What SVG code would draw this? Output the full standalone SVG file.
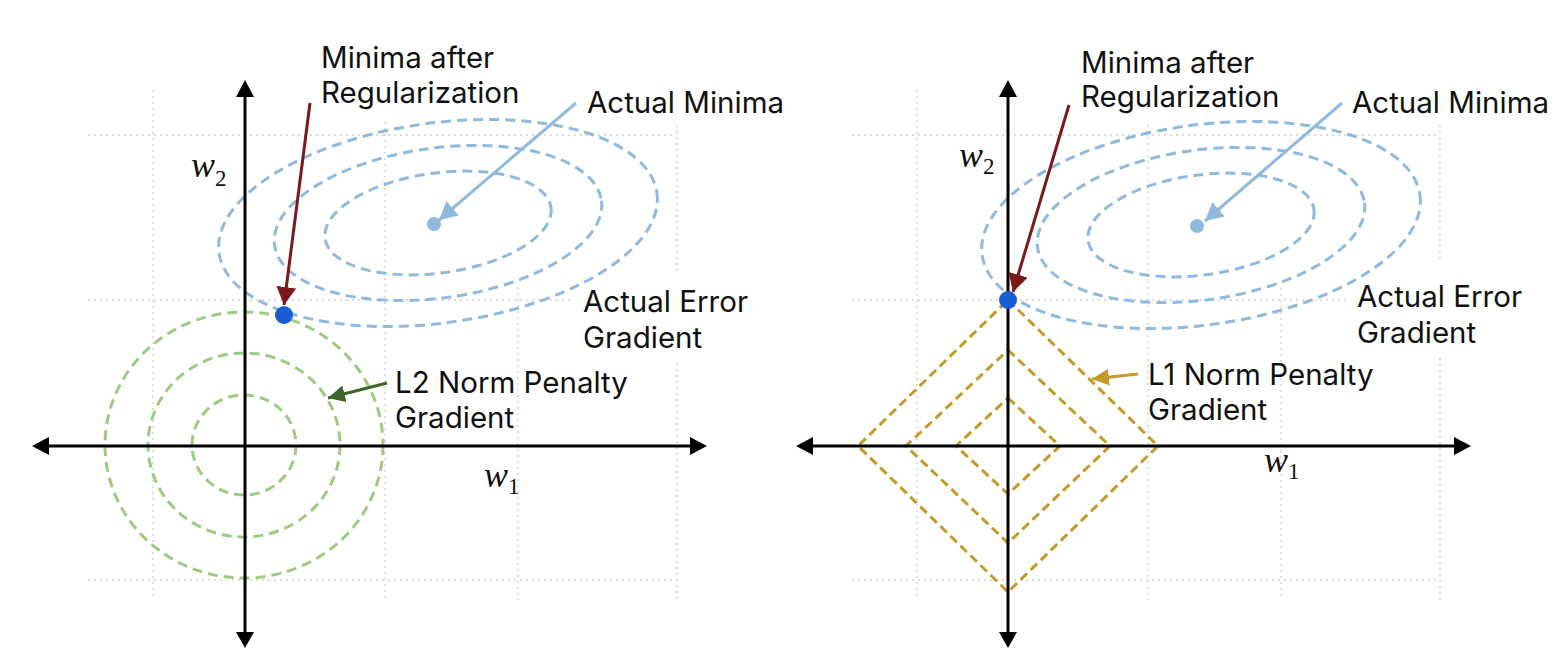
<svg xmlns="http://www.w3.org/2000/svg" width="1562" height="672" viewBox="0 0 1562 672">
<style>
.grid{stroke:#cfcfcf;stroke-width:1.3;stroke-dasharray:2 4;fill:none}
.axis{stroke:#000;stroke-width:3;fill:none}
.err{stroke:#8fbade;stroke-width:3;stroke-dasharray:10 6;fill:none}
.l2{stroke:#9ecb82;stroke-width:3;stroke-dasharray:10 6;fill:none}
.l1{stroke:#c49a28;stroke-width:3;stroke-dasharray:9 5;fill:none}
.lbl{font-family:Inter,"Liberation Sans",sans-serif;font-size:29.5px;fill:#111}
.math{font-family:"Liberation Serif","DejaVu Serif",serif;font-style:italic;font-size:36px;fill:#111}
.sub{font-family:"Liberation Serif","DejaVu Serif",serif;font-size:23px;fill:#111}
</style>
<defs>
<marker id="mRed" markerUnits="userSpaceOnUse" markerWidth="20" markerHeight="20" refX="18" refY="10" orient="auto"><path d="M0,0 L18,10 L0,20 z" fill="#7a1919"/></marker>
<marker id="mBlue" markerUnits="userSpaceOnUse" markerWidth="20" markerHeight="20" refX="18" refY="9.5" orient="auto"><path d="M0,0 L18,9.5 L0,19 z" fill="#8fbade"/></marker>
<marker id="mGreen" markerUnits="userSpaceOnUse" markerWidth="20" markerHeight="20" refX="17" refY="8.5" orient="auto"><path d="M0,0 L17,8.5 L0,17 z" fill="#3f6427"/></marker>
<marker id="mGold" markerUnits="userSpaceOnUse" markerWidth="20" markerHeight="20" refX="17" refY="8.5" orient="auto"><path d="M0,0 L17,8.5 L0,17 z" fill="#c49a28"/></marker>
</defs>
<rect width="1562" height="672" fill="#fff"/>

<g id="grid-left">
<path class="grid" d="M88,135H677 M88,300H570 M88,580H677 M153,90V600 M385,122V600 M518,287V600 M677,125V273 M677,363V600"/>
</g>
<g id="grid-right">
<path class="grid" d="M852,135H1440 M852,300H1347 M852,580H1440 M917,90V600 M1148,125V600 M1281,288V600 M1440,125V260 M1440,358V600"/>
</g>

<g id="left-error-contours">
<g transform="rotate(-7.8 438 223)">
<ellipse class="err" cx="438" cy="223" rx="221" ry="100"/>
<ellipse class="err" cx="438" cy="223" rx="165" ry="75"/>
<ellipse class="err" cx="438" cy="223" rx="114" ry="50"/>
</g>
</g>
<g id="l2-contours">
<ellipse class="l2" cx="244" cy="445" rx="139" ry="133"/>
<ellipse class="l2" cx="244" cy="445" rx="96" ry="92"/>
<ellipse class="l2" cx="244" cy="445" rx="52" ry="50"/>
</g>

<g id="right-error-contours">
<g transform="rotate(-7.8 1201 225)">
<ellipse class="err" cx="1201" cy="225" rx="221" ry="100"/>
<ellipse class="err" cx="1201" cy="225" rx="165" ry="75"/>
<ellipse class="err" cx="1201" cy="225" rx="114" ry="50"/>
</g>
</g>
<g id="l1-contours">
<path class="l1" d="M1008,300 L1158,446 L1008,592 L858,446 Z"/>
<path class="l1" d="M1008,350 L1110,446 L1008,543 L906,446 Z"/>
<path class="l1" d="M1008,398 L1060,446 L1008,494 L956,446 Z"/>
</g>

<g id="axes-left">
<path class="axis" d="M245,96V633 M48,446H692"/>
<path d="M245,80 L236,97 L254,97 Z M245,648 L236,632 L254,632 Z M32,446 L49,437 L49,455 Z M707,446 L690,437 L690,455 Z" fill="#000"/>
</g>
<g id="axes-right">
<path class="axis" d="M1008,96V633 M812,446H1456"/>
<path d="M1008,80 L999,97 L1017,97 Z M1008,648 L999,632 L1017,632 Z M796,446 L813,437 L813,455 Z M1471,446 L1454,437 L1454,455 Z" fill="#000"/>
</g>

<g id="connectors">
<line x1="310" y1="103" x2="284" y2="305" stroke="#7a1919" stroke-width="3" marker-end="url(#mRed)"/>
<line x1="576" y1="103" x2="439" y2="220" stroke="#8fbade" stroke-width="3" marker-end="url(#mBlue)"/>
<line x1="387" y1="383" x2="328" y2="398" stroke="#3f6427" stroke-width="3" marker-end="url(#mGreen)"/>
<line x1="1069" y1="105" x2="1013" y2="292" stroke="#7a1919" stroke-width="3" marker-end="url(#mRed)"/>
<line x1="1342" y1="103" x2="1205" y2="221" stroke="#8fbade" stroke-width="3" marker-end="url(#mBlue)"/>
<line x1="1138" y1="374" x2="1092" y2="379" stroke="#c49a28" stroke-width="3" marker-end="url(#mGold)"/>
</g>

<g id="points">
<circle cx="434" cy="224" r="7" fill="#8fbade"/>
<circle cx="1197" cy="226" r="7" fill="#8fbade"/>
<circle cx="284" cy="315" r="9" fill="#185cd6"/>
<circle cx="1008" cy="300" r="9" fill="#185cd6"/>
</g>

<g id="labels-left">
<text class="lbl" x="321" y="68">Minima after</text>
<text class="lbl" x="321" y="103">Regularization</text>
<text class="lbl" x="587" y="113">Actual Minima</text>
<text class="lbl" x="583" y="312">Actual Error</text>
<text class="lbl" x="583" y="348">Gradient</text>
<text class="lbl" x="395" y="393">L2 Norm Penalty</text>
<text class="lbl" x="395" y="428">Gradient</text>
<text class="math" x="191" y="177">w<tspan class="sub" dy="9" font-style="normal">2</tspan></text>
<text class="math" x="484" y="487">w<tspan class="sub" dy="7" font-style="normal">1</tspan></text>
</g>
<g id="labels-right">
<text class="lbl" x="1081" y="73">Minima after</text>
<text class="lbl" x="1081" y="107">Regularization</text>
<text class="lbl" x="1352" y="113">Actual Minima</text>
<text class="lbl" x="1357" y="307">Actual Error</text>
<text class="lbl" x="1357" y="343">Gradient</text>
<text class="lbl" x="1148" y="385">L1 Norm Penalty</text>
<text class="lbl" x="1148" y="420">Gradient</text>
<text class="math" x="959" y="167">w<tspan class="sub" dy="7" font-style="normal">2</tspan></text>
<text class="math" x="1264" y="472">w<tspan class="sub" dy="7" font-style="normal">1</tspan></text>
</g>
</svg>
